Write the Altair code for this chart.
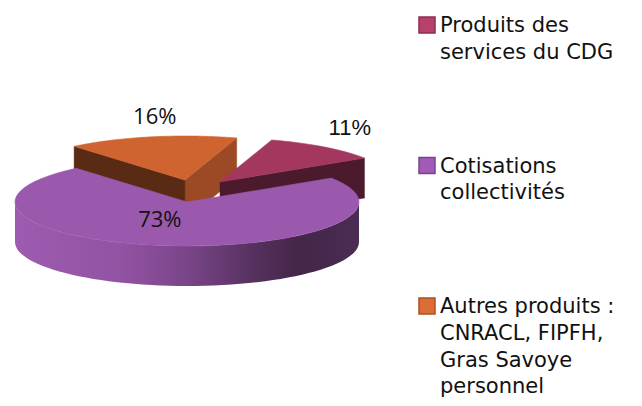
import altair as alt
import pandas as pd

# ---------------- data ----------------
CATEGORIES = [
    "Produits des services du CDG",
    "Cotisations collectivités",
    "Autres produits : CNRACL, FIPFH, Gras Savoye personnel",
]
VALUES = [11, 73, 16]
LEGEND_LINES = [
    ["Produits des", "services du CDG"],
    ["Cotisations", "collectivités"],
    ["Autres produits :", "CNRACL, FIPFH,", "Gras Savoye", "personnel"],
]

# ---------------- styles ----------------
TOP_COLORS = ["#a3375f", "#9b59ae", "#cf6431"]
LEGEND_COLORS = ["#b8416b", "#a35ab7", "#dc6d36"]
LEGEND_EDGES = ["#8a2e50", "#7a4390", "#a9531f"]
# side 0 = radial wall at the clockwise end of the slice, side 1 = at its start
WALL_COLORS = {
    CATEGORIES[0]: ["#4b1a2d", "#4b1a2d"],
    CATEGORIES[1]: ["#5a2f66", "#5a2f66"],
    CATEGORIES[2]: ["#9b4a25", "#5a2b14"],
}
OUTER_GRADIENT = {
    CATEGORIES[0]: [("#a3375f", 0), ("#4b1a2d", 1)],
    CATEGORIES[1]: [("#9d5cb0", 0), ("#9353a4", 0.3), ("#7a4589", 0.5),
                    ("#55305e", 0.7), ("#432648", 0.83), ("#4b2c54", 1)],
    CATEGORIES[2]: [("#cf6431", 0), ("#5a2b14", 1)],
}
EXPLODE = {CATEGORIES[0]: (0.192, 0.455), CATEGORIES[1]: (0.0, 0.0), CATEGORIES[2]: (-0.012, 0.5)}
LABEL_PLACE = {CATEGORIES[0]: (1.44, 5.7), CATEGORIES[1]: (0.44, -12.5), CATEGORIES[2]: (1.44, -4.3)}
LABEL_FONT = {CATEGORIES[0]: ("Liberation Sans", 22), CATEGORIES[1]: ("Open Sans", 22),
              CATEGORIES[2]: ("Open Sans", 22)}
DRAW_ORDER = [CATEGORIES[2], CATEGORIES[0], CATEGORIES[1]]

W, H = 642, 406
CX, CY, RX, RY, DEPTH_PX = 187, 202, 172, 44, 40
START = 72.5   # angle (deg, counter-clockwise from 3 o'clock) where the first slice begins
N = 60

# legend layout (pixels)
LEG_SYM_X, LEG_TEXT_X = 427, 440
LEG_Y0, LEG_STEP, LEG_LH, LEG_TEXT_DY = 25, 140.5, 26.7, 1.2
LEG_FONT, LEG_FONT_SIZE = "DejaVu Sans", 21

XDOM = [(0 - CX) / RX, (W - CX) / RX]
YDOM = [(CY - H) / RY, CY / RY]
DEPTH = DEPTH_PX / RY

df = pd.DataFrame({"cat": CATEGORIES, "value": VALUES, "order": list(range(len(CATEGORIES)))})
legend_df = pd.DataFrame(
    [{"cat": c, "item": i, "line": j, "text": t}
     for i, (c, lines) in enumerate(zip(CATEGORIES, LEGEND_LINES))
     for j, t in enumerate(lines)]
)
base = alt.Chart(df)

X = alt.X("px:Q", scale=alt.Scale(domain=XDOM, nice=False, zero=False), axis=None)
Y = alt.Y("py:Q", scale=alt.Scale(domain=YDOM, nice=False, zero=False), axis=None)
FILL = alt.Fill("cat:N", scale=alt.Scale(domain=CATEGORIES, range=TOP_COLORS), legend=None)


def slice_base(c):
    return (
        base.transform_window(cum="sum(value)", sort=[alt.SortField("order")], frame=[None, 0])
        .transform_joinaggregate(total="sum(value)")
        .transform_filter(alt.datum.cat == c)
        .transform_calculate(
            a_hi=f"{START} - 360 * (datum.cum - datum.value) / datum.total",
            a_lo=f"{START} - 360 * datum.cum / datum.total",
        )
    )


def top_layer(c):
    ex, ey = EXPLODE[c]
    return (
        slice_base(c)
        .transform_calculate(pts=f"sequence(0, {N + 2})")
        .transform_flatten(["pts"], as_=["k"])
        .transform_calculate(
            t=f"(datum.a_lo + (datum.a_hi - datum.a_lo) * (datum.k - 1) / {N}) * PI / 180",
            rr="datum.k == 0 ? 0 : 1",
            px=f"{ex} + datum.rr * cos(datum.t)",
            py=f"{ey} + datum.rr * sin(datum.t)",
        )
        .mark_line(interpolate="linear-closed", strokeWidth=0.6)
        .encode(x=X, y=Y, order=alt.Order("k:Q"), fill=FILL,
                stroke=alt.Stroke("cat:N", scale=alt.Scale(domain=CATEGORIES, range=TOP_COLORS),
                                  legend=None))
    )


def wall_layer(c, side):
    ex, ey = EXPLODE[c]
    ang = "datum.a_lo" if side == 0 else "datum.a_hi"
    vis = f"cos({ang} * PI / 180) > 0" if side == 0 else f"cos({ang} * PI / 180) < 0"
    col = WALL_COLORS[c][side]
    return (
        slice_base(c)
        .transform_filter(vis)
        .transform_calculate(pts="sequence(0, 4)")
        .transform_flatten(["pts"], as_=["k"])
        .transform_calculate(
            t=f"{ang} * PI / 180",
            rr="(datum.k == 1 || datum.k == 2) ? 1 : 0",
            hh="datum.k >= 2 ? 1 : 0",
            px=f"{ex} + datum.rr * cos(datum.t)",
            py=f"{ey} + datum.rr * sin(datum.t) - {DEPTH} * datum.hh",
        )
        .mark_line(interpolate="linear-closed", fill=col, stroke=col, strokeWidth=0.5)
        .encode(x=X, y=Y, order=alt.Order("k:Q"))
    )


def outer_layer(c):
    ex, ey = EXPLODE[c]
    grad = alt.Gradient(
        gradient="linear",
        stops=[alt.GradientStop(color=col, offset=o) for col, o in OUTER_GRADIENT[c]],
        x1=0, x2=1, y1=0, y2=0,
    )
    return (
        slice_base(c)
        .transform_calculate(
            lo="((datum.a_lo % 360) + 360) % 360",
            hi="datum.lo + datum.a_hi - datum.a_lo",
            s="max(datum.lo, 180)",
            e="min(datum.hi, 360)",
        )
        .transform_filter("datum.e > datum.s")
        .transform_calculate(pts=f"sequence(0, {2 * N + 2})")
        .transform_flatten(["pts"], as_=["k"])
        .transform_calculate(
            j=f"datum.k <= {N} ? datum.k : {2 * N + 1} - datum.k",
            hh=f"datum.k <= {N} ? 0 : 1",
            t=f"(datum.s + (datum.e - datum.s) * datum.j / {N}) * PI / 180",
            px=f"{ex} + cos(datum.t)",
            py=f"{ey} + sin(datum.t) - {DEPTH} * datum.hh",
        )
        .mark_line(interpolate="linear-closed", fill=grad, strokeWidth=0)
        .encode(x=X, y=Y, order=alt.Order("k:Q"))
    )


def label_layer(c):
    ex, ey = EXPLODE[c]
    r, dth = LABEL_PLACE[c]
    font, size = LABEL_FONT[c]
    return (
        slice_base(c)
        .transform_calculate(
            t=f"((datum.a_lo + datum.a_hi) / 2 + {dth}) * PI / 180",
            px=f"{ex} + {r} * cos(datum.t)",
            py=f"{ey} + {r} * sin(datum.t)",
            pct="datum.value / datum.total",
        )
        .mark_text(font=font, fontSize=size, color="#111111", align="center", baseline="middle")
        .encode(x=X, y=Y, text=alt.Text("pct:Q", format=".0%"))
    )


# ---------------- legend (symbols + wrapped labels) ----------------
legend_symbols = (
    base.transform_calculate(
        px=f"({LEG_SYM_X} - {CX}) / {RX}",
        py=f"({CY} - ({LEG_Y0} + datum.order * {LEG_STEP})) / {RY}",
    )
    .mark_point(shape="square", size=256, filled=True, strokeWidth=1.5, opacity=1)
    .encode(
        x=X, y=Y,
        fill=alt.Fill("cat:N", scale=alt.Scale(domain=CATEGORIES, range=LEGEND_COLORS), legend=None),
        stroke=alt.Stroke("cat:N", scale=alt.Scale(domain=CATEGORIES, range=LEGEND_EDGES), legend=None),
    )
)
legend_text = (
    alt.Chart(legend_df)
    .transform_calculate(
        px=f"({LEG_TEXT_X} - {CX}) / {RX}",
        py=f"({CY} - ({LEG_Y0} + datum.item * {LEG_STEP} + datum.line * {LEG_LH} + {LEG_TEXT_DY})) / {RY}",
    )
    .mark_text(font=LEG_FONT, fontSize=LEG_FONT_SIZE, color="#111111", align="left", baseline="middle")
    .encode(x=X, y=Y, text="text:N")
)

layers = []
for c in DRAW_ORDER:
    layers += [outer_layer(c), wall_layer(c, 0), wall_layer(c, 1), top_layer(c)]
for c in CATEGORIES:
    layers.append(label_layer(c))
layers += [legend_symbols, legend_text]

chart = (
    alt.layer(*layers)
    .resolve_scale(fill="independent", stroke="independent")
    .properties(width=W, height=H, padding=0, autosize=alt.AutoSizeParams(type="none"),
                background="white")
    .configure_view(stroke=None)
)

chart.save("out.html", embed_options={"renderer": "svg", "actions": False})
